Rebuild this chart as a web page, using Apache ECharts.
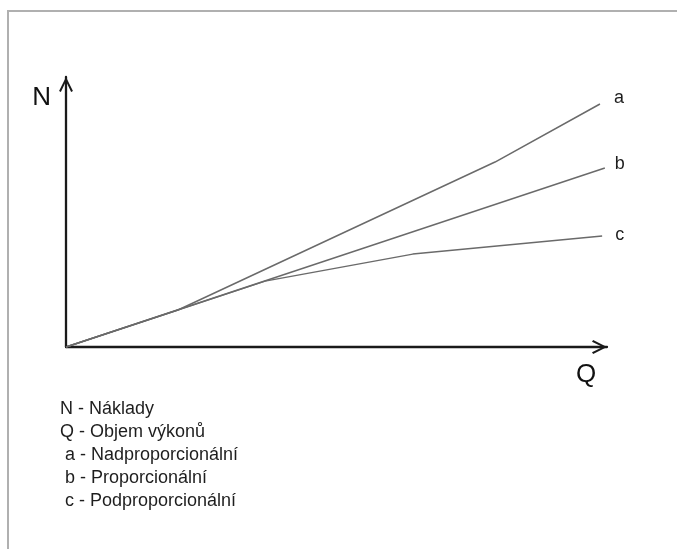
<!DOCTYPE html>
<html>
<head>
<meta charset="utf-8">
<script src="https://cdn.jsdelivr.net/npm/echarts@6/dist/echarts.min.js"></script>
<style>
  html, body { margin: 0; padding: 0; background: #fff; }
  #chart { position: absolute; left: 0; top: 0; width: 677px; height: 549px; }
  #frame { position: absolute; left: 7px; top: 10px; right: -5px; bottom: -5px;
           border-top: 2px solid #b0b0b0; border-left: 2px solid #b0b0b0; pointer-events: none; }
</style>
</head>
<body>
<div id="chart"></div>
<div id="frame"></div>
<script>
// Data (Q on x, N on y; arbitrary units 0–100)
const seriesNames = ['a', 'b', 'c'];
const seriesA = [[0, 0], [20.7, 13.7], [79.3, 68.5], [98.7, 90.0]];
const seriesB = [[0, 0], [99.6, 66.3]];
const seriesC = [[0, 0], [36.8, 24.4], [64.1, 34.4], [99.1, 41.1]];
const axisNameX = 'Q';
const axisNameY = 'N';
const legendLines = [
  'N - Náklady',
  'Q - Objem výkonů',
  ' a - Nadproporcionální',
  ' b - Proporcionální',
  ' c - Podproporcionální'
];

const FONT = 'Arial, "Liberation Sans", sans-serif';
const chevron = 'path://M0,10 L5,0 L10,10 L8.7,10.8 L5,3.1 L1.3,10.8 Z';

const chart = echarts.init(document.getElementById('chart'), null, { renderer: 'canvas' });

const lineStyle = { color: '#6a6a6a', width: 1.5 };
function mkSeries(name, data, offset) {
  return {
    type: 'line', name: name, data: data, showSymbol: false, symbol: 'none',
    lineStyle: lineStyle, clip: false, silent: true, z: 3,
    endLabel: { show: true, formatter: '{a}', offset: offset,
      fontFamily: FONT, fontSize: 18, color: '#1e1e1e', align: 'left' }
  };
}

chart.setOption({
  animation: false,
  backgroundColor: 'transparent',
  title: {
    text: legendLines.join('\n'),
    left: 60, top: 398, padding: 0,
    textStyle: { fontFamily: FONT, fontSize: 18, fontWeight: 'normal', color: '#1e1e1e', lineHeight: 23 }
  },
  grid: { left: 66, right: 70, top: 77, bottom: 202, containLabel: false },
  xAxis: {
    type: 'value', min: 0, max: 100,
    name: axisNameX, nameLocation: 'end', nameGap: -21,
    nameTextStyle: { fontFamily: FONT, fontSize: 26, color: '#111', align: 'center', verticalAlign: 'top', padding: [15, 0, 0, 0] },
    axisLine: { show: true, onZero: false, symbol: ['none', chevron], symbolSize: [18, 15], symbolOffset: [0, -7.5],
      lineStyle: { color: '#1a1a1a', width: 2.3 } },
    axisTick: { show: false }, axisLabel: { show: false }, splitLine: { show: false }
  },
  yAxis: {
    type: 'value', min: 0, max: 100,
    name: axisNameY, nameLocation: 'end', nameGap: -21,
    nameTextStyle: { fontFamily: FONT, fontSize: 26, color: '#111', align: 'right', verticalAlign: 'middle', padding: [0, 15, 0, 0] },
    axisLine: { show: true, onZero: false, symbol: ['none', chevron], symbolSize: [16, 15], symbolOffset: [0, -7.5],
      lineStyle: { color: '#1a1a1a', width: 2.3 } },
    axisTick: { show: false }, axisLabel: { show: false }, splitLine: { show: false }
  },
  series: [
    mkSeries(seriesNames[0], seriesA, [6, -6]),
    mkSeries(seriesNames[1], seriesB, [2, -4]),
    mkSeries(seriesNames[2], seriesC, [5, -1])
  ]
});
</script>
</body>
</html>
